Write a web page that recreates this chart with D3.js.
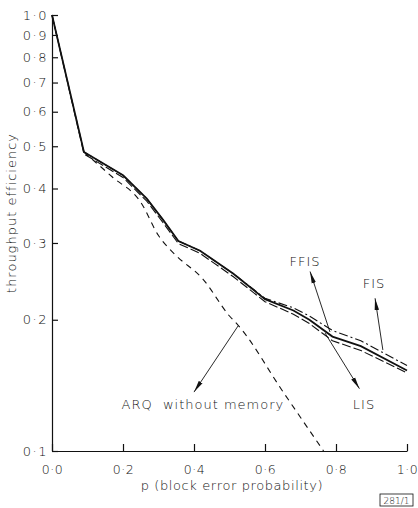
<!DOCTYPE html>
<html lang="en">
<head>
<meta charset="UTF-8">
<script src="https://cdn.jsdelivr.net/npm/d3@7/dist/d3.min.js"></script>
<style>
    body { margin: 0; background: white; }
    svg text { font-family: 'DejaVu Sans', sans-serif; font-weight: 200; fill: #111; }
    .axis path, .axis line { stroke: #111; stroke-width: 1.2px; }
    .axis text { font-size: 13px; letter-spacing: 1.5px; }
    .xaxis text { font-size: 12.5px; letter-spacing: 0.6px; }
</style>
</head>
<body>
<div id="chart"></div>
<script>
    const width = 418, height = 508;

    // shared x points for the three memory schemes
    const pVals = [0, 0.09, 0.2, 0.267, 0.314, 0.356, 0.417, 0.511, 0.6, 0.68, 0.725, 0.79, 0.87, 1.0];
    const ffis  = [1.0, 0.485, 0.429, 0.379, 0.338, 0.303, 0.288, 0.255, 0.223, 0.210, 0.200, 0.183, 0.174, 0.153];
    const lis   = [1.0, 0.480, 0.424, 0.374, 0.333, 0.299, 0.284, 0.251, 0.220, 0.206, 0.196, 0.179, 0.170, 0.151];
    const fis   = [1.0, 0.485, 0.429, 0.379, 0.338, 0.303, 0.288, 0.255, 0.224, 0.213, 0.204, 0.189, 0.179, 0.157];

    // ARQ without memory (shares the 0 -> 0.09 segment with the solid curve)
    const arqP = [0.09, 0.17, 0.25, 0.30, 0.345, 0.425, 0.50, 0.525, 0.65, 0.765];
    const arqV = [0.485, 0.425, 0.372, 0.312, 0.283, 0.248, 0.204, 0.194, 0.137, 0.10];

    const xTicks = [0, 0.2, 0.4, 0.6, 0.8, 1.0];
    const xTickLabels = ["0·0", "0·2", "0·4", "0·6", "0·8", "1·0"];
    const yTicks = [0.1, 0.2, 0.3, 0.4, 0.5, 0.6, 0.7, 0.8, 0.9, 1.0];
    const yTickLabels = ["0·1", "0·2", "0·3", "0·4", "0·5", "0·6", "0·7", "0·8", "0·9", "1·0"];

    // annotations: label text, label position, arrow tail -> tip (data units)
    const notes = [
        {text: "ARQ  without memory", at: [0.425, 0.1248], from: [0.524, 0.1935], to: [0.40, 0.1365]},
        {text: "FFIS", at: [0.713, 0.266], from: [0.783, 0.1875], to: [0.727, 0.258]},
        {text: "FIS", at: [0.907, 0.2365], from: [0.932, 0.1705], to: [0.91, 0.224]},
        {text: "LIS", at: [0.879, 0.1248], from: [0.769, 0.1865], to: [0.866, 0.139]}
    ];

    const x = d3.scaleLinear().domain([0, 1]).range([52, 407]);
    const y = d3.scaleLog().domain([0.1, 1]).range([451, 15]);

    const svg = d3.select("#chart").append("svg")
        .attr("width", width)
        .attr("height", height);

    svg.append("defs").append("marker")
        .attr("id", "head")
        .attr("viewBox", "0 0 12 6")
        .attr("refX", 12).attr("refY", 3)
        .attr("markerWidth", 12).attr("markerHeight", 6)
        .attr("markerUnits", "userSpaceOnUse")
        .attr("orient", "auto")
        .append("path")
        .attr("d", "M0,0.8 L12,3 L0,5.2 Z")
        .attr("fill", "#111");

    const xAxis = svg.append("g")
        .attr("class", "axis xaxis")
        .attr("transform", `translate(0,${y(0.1)})`)
        .call(d3.axisBottom(x).tickValues(xTicks).tickSize(-7).tickSizeOuter(0)
            .tickFormat((d, i) => xTickLabels[i]));
    xAxis.selectAll("text").attr("y", 14);

    const yAxis = svg.append("g")
        .attr("class", "axis")
        .attr("transform", `translate(${x(0)},0)`)
        .call(d3.axisLeft(y).tickValues(yTicks).tickSize(-6).tickSizeOuter(0)
            .tickFormat((d, i) => yTickLabels[i]));
    yAxis.selectAll("text").attr("x", -4);

    svg.append("text")
        .attr("transform", `translate(16,213) rotate(-90)`)
        .attr("text-anchor", "middle")
        .style("font-size", "13px")
        .style("letter-spacing", "1px")
        .text("throughput efficiency");

    svg.append("text")
        .attr("x", 232).attr("y", 490)
        .attr("text-anchor", "middle")
        .style("font-size", "13px")
        .style("letter-spacing", "0.6px")
        .text("p (block error probability)");

    const line = d3.line().x(d => x(d[0])).y(d => y(d[1]));
    const zipP = vals => pVals.map((p, i) => [p, vals[i]]);

    svg.append("path").datum(arqP.map((p, i) => [p, arqV[i]]))
        .attr("d", line.curve(d3.curveMonotoneX))
        .attr("fill", "none").attr("stroke", "#111")
        .attr("stroke-width", 1.1).attr("stroke-dasharray", "6,5");

    line.curve(d3.curveLinear);

    svg.append("path").datum(zipP(lis))
        .attr("d", line)
        .attr("fill", "none").attr("stroke", "#111")
        .attr("stroke-width", 1.1).attr("stroke-dasharray", "9,3");

    svg.append("path").datum(zipP(fis))
        .attr("d", line)
        .attr("fill", "none").attr("stroke", "#111")
        .attr("stroke-width", 1.1).attr("stroke-dasharray", "9,3,2,3");

    svg.append("path").datum(zipP(ffis))
        .attr("d", line)
        .attr("fill", "none").attr("stroke", "#111")
        .attr("stroke-width", 1.8);

    notes.forEach(n => {
        svg.append("line")
            .attr("x1", x(n.from[0])).attr("y1", y(n.from[1]))
            .attr("x2", x(n.to[0])).attr("y2", y(n.to[1]))
            .attr("stroke", "#111").attr("stroke-width", 0.9)
            .attr("marker-end", "url(#head)");
        svg.append("text")
            .attr("x", x(n.at[0])).attr("y", y(n.at[1]))
            .attr("text-anchor", "middle")
            .style("font-size", "13px")
            .style("letter-spacing", "1px")
            .style("white-space", "pre")
            .text(n.text);
    });

    // figure number box
    svg.append("rect")
        .attr("x", 380).attr("y", 494).attr("width", 33).attr("height", 12)
        .attr("fill", "none").attr("stroke", "#111").attr("stroke-width", 0.8);
    svg.append("text")
        .attr("x", 396.5).attr("y", 504)
        .attr("text-anchor", "middle")
        .style("font-size", "9px")
        .text("281/1");
</script>
</body>
</html>
